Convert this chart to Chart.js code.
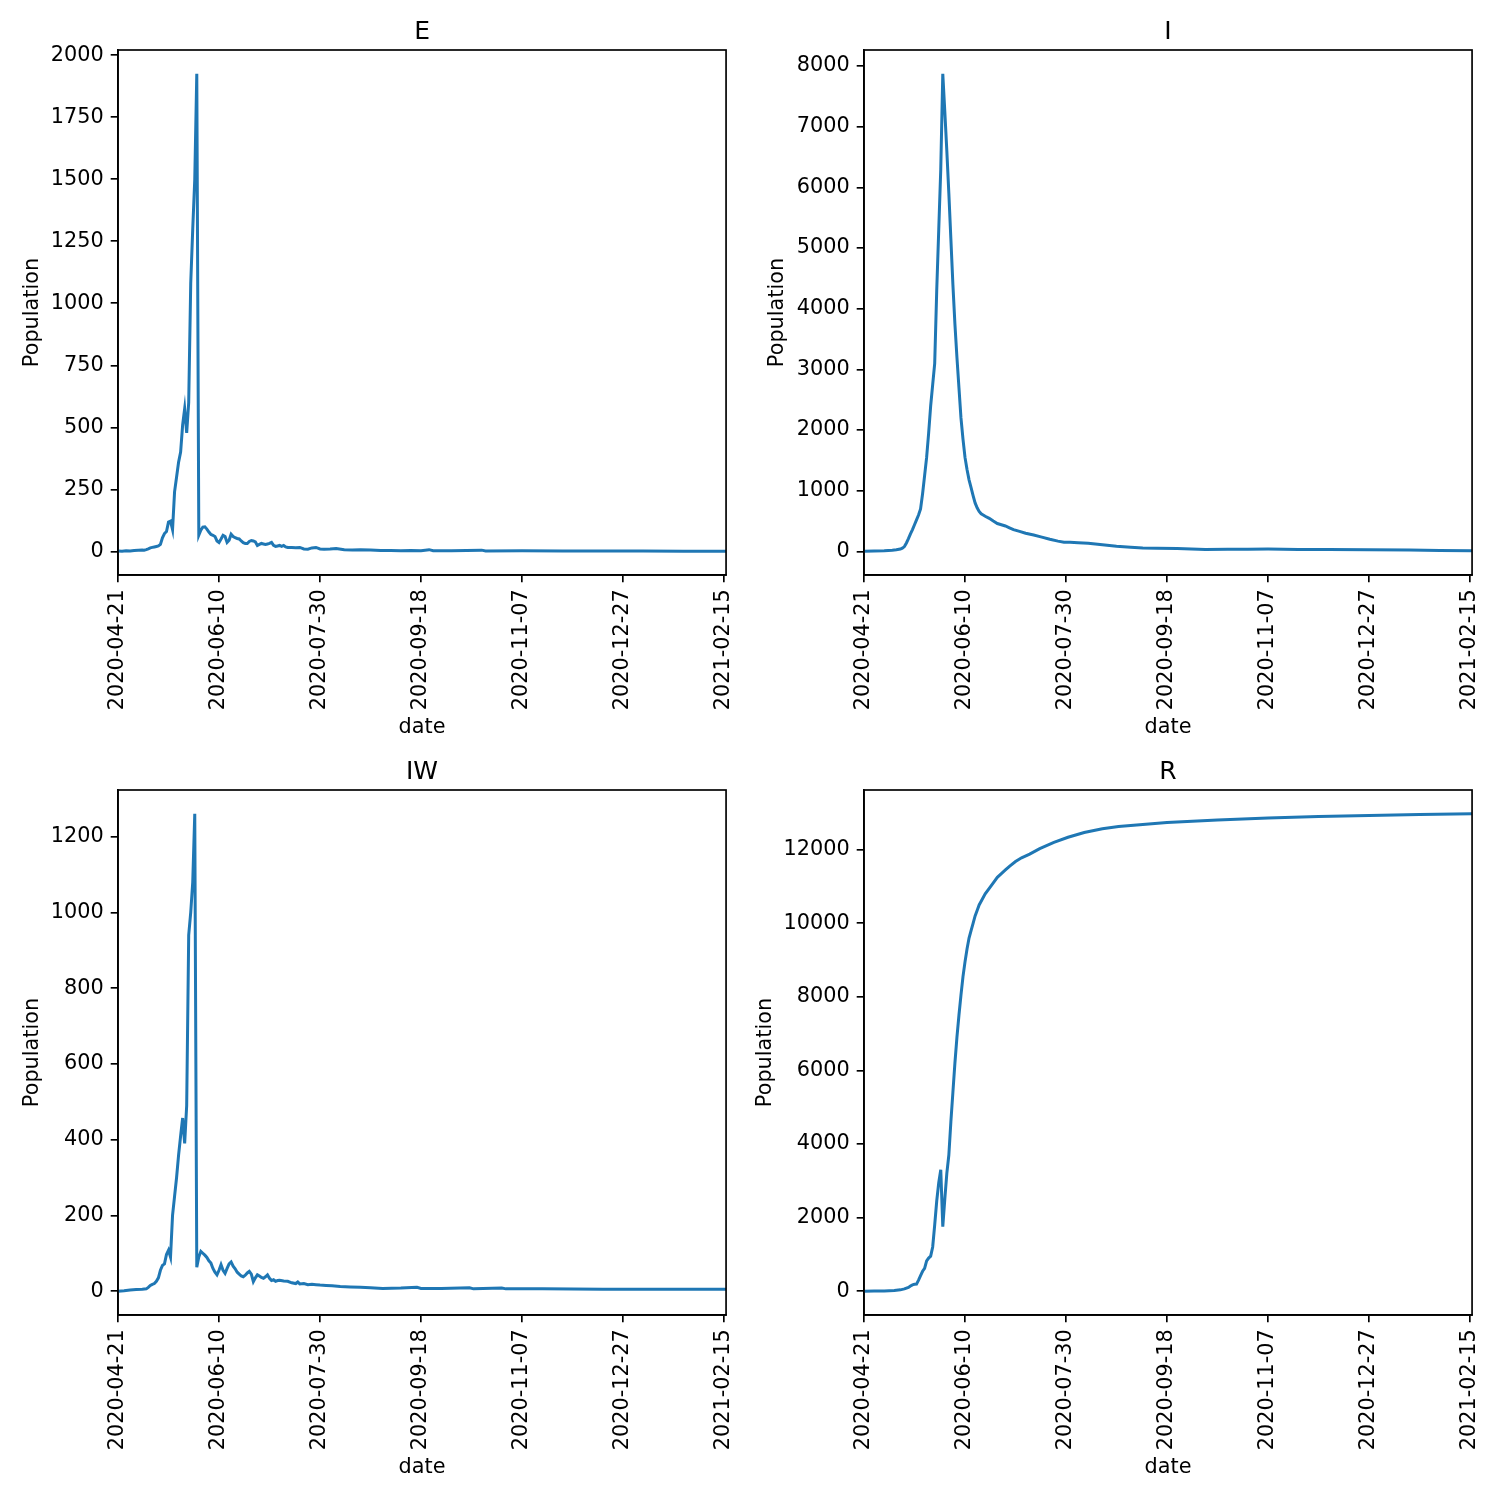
<!DOCTYPE html>
<html lang="en">
<head>
    <meta charset="UTF-8">
    <title>E / I / IW / R</title>
    <script src="https://cdn.jsdelivr.net/npm/chart.js"></script>
    <style>
      body { margin: 0; background: #fff; }
      #wrap { position: relative; width: 1500px; height: 1500px; }
      canvas { position: absolute; }
    </style>
</head>
<body>
    <div id="wrap">
      <canvas id="chartE" width="756" height="745" style="left:0px; top:0px;"></canvas>
      <canvas id="chartI" width="756" height="745" style="left:746px; top:0px;"></canvas>
      <canvas id="chartIW" width="756" height="745" style="left:0px; top:740px;"></canvas>
      <canvas id="chartR" width="756" height="745" style="left:746px; top:740px;"></canvas>
    </div>

    <script>
      // x axis: days since 2020-04-21
      const tickDays = [0, 50, 100, 150, 200, 250, 300];
      const tickDates = ['2020-04-21', '2020-06-10', '2020-07-30', '2020-09-18', '2020-11-07', '2020-12-27', '2021-02-15'];
      const lastDay = 301;

      // E
      const eDays = [0,2,4,6,8,10,12,13,14,15,16,17,18,19,20,21,22,23,24,25,26,27,28,29,30,31,32,33,34,35,36,37,38,39,40,41,42,43,44,45,46,47,48,49,50,51,52,53,54,55,56,57,58,59,60,61,62,63,64,65,66,67,68,69,70,71,72,73,74,75,76,77,78,79,80,81,82,83,84,86,88,90,92,94,96,98,100,102,105,108,112,116,120,125,130,135,140,145,150,154,156,165,180,182,200,220,240,260,280,301];
      const eValues = [2,1,3,2,4,5,6,5,7,10,14,16,18,20,22,28,55,72,80,118,122,88,240,300,360,400,510,575,478,600,1080,1300,1500,1925,65,85,98,99,90,78,68,65,60,42,36,50,65,60,36,45,69,60,55,52,50,42,35,32,32,40,44,42,38,24,28,32,30,28,30,32,36,24,20,22,24,20,24,18,16,16,15,16,10,9,14,16,10,9,10,12,7,6,7,6,4,4,3,4,3,7,3,3,5,2,3,2,2,2,1,1];
      const eTicks = [0, 250, 500, 750, 1000, 1250, 1500, 1750, 2000];

      // I
      const iDays = [0,5,10,14,16,18,19,20,21,22,23,24,25,26,27,28,29,30,31,32,33,34,35,36,37,38,39,40,41,42,43,44,45,46,47,48,49,50,51,52,53,54,55,56,57,58,59,60,62,64,66,68,70,72,74,77,80,84,88,92,96,99,102,106,111,118,125,132,138,145,155,162,169,180,190,200,215,230,250,270,285,301];
      const iValues = [5,8,12,20,28,40,55,80,140,210,290,360,440,520,600,700,950,1250,1550,1950,2400,2750,3100,4300,5300,6300,7870,7250,6600,5900,5150,4400,3750,3200,2700,2200,1850,1550,1350,1180,1050,920,800,720,660,620,600,580,545,500,460,440,420,390,360,330,300,270,236,200,170,150,150,145,135,110,84,68,56,52,50,42,34,36,38,39,34,30,28,22,16,11];
      const iTicks = [0, 1000, 2000, 3000, 4000, 5000, 6000, 7000, 8000];

      // IW
      const iwDays = [0,3,6,9,12,14,15,16,17,18,19,20,21,22,23,24,25,26,27,28,29,30,31,32,33,34,35,36,37,38,39,40,41,42,43,44,45,46,47,48,49,50,51,52,53,54,55,56,57,58,59,60,61,62,63,64,65,66,67,68,69,70,71,72,73,74,75,76,77,78,79,80,82,84,86,88,89,90,92,94,96,98,100,103,106,110,115,120,125,131,140,148,150,160,174,176,190,192,210,240,270,301];
      const iwValues = [0,1,3,4,5,6,10,15,18,20,26,35,55,68,72,97,108,90,200,250,300,360,410,457,390,490,940,1000,1080,1260,63,90,105,100,95,89,80,74,60,50,43,55,70,55,47,60,72,77,66,59,50,45,40,38,42,48,52,45,25,35,43,40,36,34,38,43,34,28,30,26,28,29,27,26,22,20,24,19,20,17,18,17,16,15,14,12,11,10,9,7,8,10,7,7,9,6,8,6,6,5,5,5];
      const iwTicks = [0, 200, 400, 600, 800, 1000, 1200];

      // R
      const rDays = [0,5,10,15,18,20,22,23,24,25,26,27,28,29,30,31,32,33,34,35,36,37,38,39,40,41,42,43,44,45,46,47,48,49,50,51,52,53,54,55,56,57,58,60,62,64,66,68,70,72,75,78,82,87,94,101,109,118,126,150,175,200,225,250,275,301];
      const rValues = [0,2,5,15,35,60,100,140,170,185,190,300,420,540,620,820,900,950,1200,1800,2450,2950,3300,1750,2500,3200,3700,4600,5400,6200,6900,7500,8050,8550,8950,9300,9600,9800,10000,10200,10350,10500,10600,10800,10950,11100,11250,11350,11450,11550,11680,11780,11880,12030,12200,12340,12470,12570,12630,12740,12810,12860,12900,12930,12955,12975];
      const rTicks = [0, 2000, 4000, 6000, 8000, 10000, 12000];

      const tickFont = { family: 'DejaVu Sans', size: 20.8 };
      const lineBlue = '#1f77b4';

      // frame + title + axis labels, placed around the chart area
      const panelText = {
        id: 'panelText',
        afterDraw(chart, args, opts) {
          const ctx = chart.ctx;
          const a = chart.chartArea;
          ctx.save();
          ctx.strokeStyle = '#000';
          ctx.lineWidth = 1.67;
          ctx.strokeRect(a.left, a.top, a.right - a.left, a.bottom - a.top);
          ctx.fillStyle = '#000';
          ctx.textAlign = 'center';
          ctx.font = '25px "DejaVu Sans"';
          ctx.textBaseline = 'alphabetic';
          ctx.fillText(opts.title, (a.left + a.right) / 2, a.top - 11);
          ctx.font = '20.8px "DejaVu Sans"';
          ctx.textBaseline = 'middle';
          ctx.fillText('date', (a.left + a.right) / 2, a.bottom + 153);
          ctx.translate(a.left + opts.yLabelOffset, (a.top + a.bottom) / 2);
          ctx.rotate(-Math.PI / 2);
          ctx.fillText('Population', 0, 0);
          ctx.restore();
        }
      };

      function makePanel(id, title, days, values, yTicks, yLabelOffset) {
        const lo = Math.min(...values);
        const hi = Math.max(...values);
        const pad = (hi - lo) * 0.05;

        new Chart(document.getElementById(id), {
          type: 'line',
          data: {
            datasets: [{
              data: days.map((d, i) => ({ x: d, y: values[i] })),
              borderColor: lineBlue,
              borderWidth: 3,
              pointRadius: 0,
              tension: 0,
              fill: false
            }]
          },
          options: {
            responsive: false,
            animation: false,
            devicePixelRatio: 1,
            layout: { padding: { top: 50, right: 0, left: 0, bottom: 0 } },
            plugins: {
              legend: { display: false },
              tooltip: { enabled: false },
              panelText: { title: title, yLabelOffset: yLabelOffset }
            },
            scales: {
              x: {
                type: 'linear',
                min: 0,
                max: lastDay,
                afterBuildTicks: s => { s.ticks = tickDays.map(v => ({ value: v })); },
                afterFit: s => { s.height = 170; },
                ticks: {
                  autoSkip: false,
                  minRotation: 90,
                  maxRotation: 90,
                  padding: 7,
                  color: '#000',
                  font: tickFont,
                  callback: (v, i) => tickDates[i]
                },
                grid: { drawOnChartArea: false, tickLength: 7.3, color: '#000', lineWidth: 1.67 },
                border: { color: '#000', width: 1.67 }
              },
              y: {
                min: lo - pad,
                max: hi + pad,
                afterBuildTicks: s => { s.ticks = yTicks.map(v => ({ value: v })); },
                afterFit: s => { s.width = 118; },
                ticks: {
                  autoSkip: false,
                  padding: 7,
                  color: '#000',
                  font: tickFont,
                  callback: v => String(v)
                },
                grid: { drawOnChartArea: false, tickLength: 7.3, color: '#000', lineWidth: 1.67 },
                border: { color: '#000', width: 1.67 }
              }
            }
          },
          plugins: [panelText]
        });
      }

      makePanel('chartE', 'E', eDays, eValues, eTicks, -85);
      makePanel('chartI', 'I', iDays, iValues, iTicks, -86);
      makePanel('chartIW', 'IW', iwDays, iwValues, iwTicks, -85);
      makePanel('chartR', 'R', rDays, rValues, rTicks, -98);
    </script>
</body>
</html>
